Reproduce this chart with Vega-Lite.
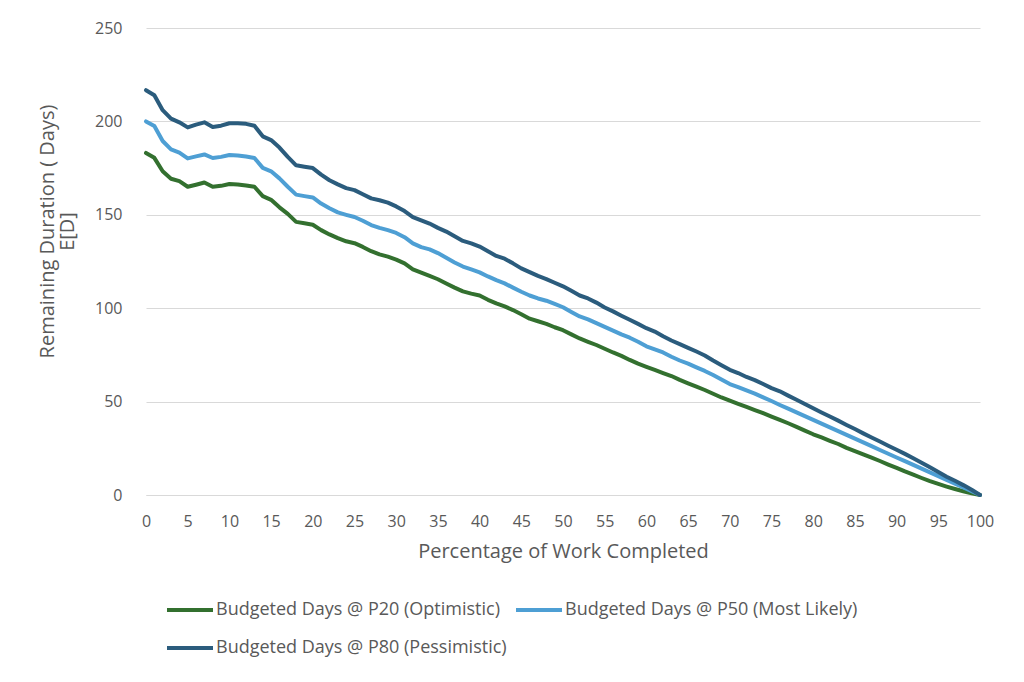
{
  "$schema": "https://vega.github.io/schema/vega-lite/v6.json",
  "width": 834,
  "height": 467,
  "autosize": "none",
  "padding": {"left": 146, "top": 28, "right": 44, "bottom": 187},
  "background": "white",
  "data": {"values": [
    {"pct":0,"p20":183.1,"p50":200,"p80":216.7},
    {"pct":1,"p20":180.5,"p50":197.5,"p80":214},
    {"pct":2,"p20":173.3,"p50":189.5,"p80":206},
    {"pct":3,"p20":169.3,"p50":185,"p80":201.5},
    {"pct":4,"p20":168,"p50":183.3,"p80":199.5},
    {"pct":5,"p20":165,"p50":180.2,"p80":196.8},
    {"pct":6,"p20":166.1,"p50":181.3,"p80":198.3},
    {"pct":7,"p20":167.3,"p50":182.3,"p80":199.5},
    {"pct":8,"p20":165,"p50":180.4,"p80":197},
    {"pct":9,"p20":165.5,"p50":181,"p80":197.7},
    {"pct":10,"p20":166.5,"p50":182,"p80":199},
    {"pct":11,"p20":166.2,"p50":181.7,"p80":199},
    {"pct":12,"p20":165.7,"p50":181.2,"p80":198.7},
    {"pct":13,"p20":165,"p50":180.4,"p80":197.7},
    {"pct":14,"p20":160,"p50":175.1,"p80":192},
    {"pct":15,"p20":158,"p50":173.3,"p80":190},
    {"pct":16,"p20":154,"p50":169.5,"p80":186},
    {"pct":17,"p20":150.5,"p50":165,"p80":181},
    {"pct":18,"p20":146.2,"p50":160.8,"p80":176.5},
    {"pct":19,"p20":145.5,"p50":160,"p80":175.7},
    {"pct":20,"p20":144.7,"p50":159.3,"p80":175},
    {"pct":21,"p20":141.8,"p50":156,"p80":171.5},
    {"pct":22,"p20":139.5,"p50":153.5,"p80":168.5},
    {"pct":23,"p20":137.5,"p50":151.3,"p80":166.3},
    {"pct":24,"p20":135.8,"p50":150,"p80":164.3},
    {"pct":25,"p20":134.8,"p50":148.8,"p80":163.2},
    {"pct":26,"p20":132.8,"p50":146.8,"p80":161},
    {"pct":27,"p20":130.5,"p50":144.5,"p80":158.8},
    {"pct":28,"p20":128.8,"p50":143,"p80":157.8},
    {"pct":29,"p20":127.6,"p50":141.8,"p80":156.5},
    {"pct":30,"p20":126,"p50":140.3,"p80":154.5},
    {"pct":31,"p20":124,"p50":138,"p80":152},
    {"pct":32,"p20":120.8,"p50":134.7,"p80":148.8},
    {"pct":33,"p20":119,"p50":132.7,"p80":147},
    {"pct":34,"p20":117.3,"p50":131.5,"p80":145.3},
    {"pct":35,"p20":115.5,"p50":129.5,"p80":143},
    {"pct":36,"p20":113.2,"p50":127,"p80":141},
    {"pct":37,"p20":111,"p50":124.5,"p80":138.5},
    {"pct":38,"p20":109,"p50":122.3,"p80":136},
    {"pct":39,"p20":107.8,"p50":120.8,"p80":134.7},
    {"pct":40,"p20":106.8,"p50":119.2,"p80":133},
    {"pct":41,"p20":104.5,"p50":117,"p80":130.5},
    {"pct":42,"p20":102.6,"p50":115,"p80":128},
    {"pct":43,"p20":101,"p50":113.3,"p80":126.5},
    {"pct":44,"p20":99,"p50":111,"p80":124},
    {"pct":45,"p20":96.8,"p50":108.8,"p80":121.3},
    {"pct":46,"p20":94.4,"p50":106.8,"p80":119.3},
    {"pct":47,"p20":93,"p50":105.2,"p80":117.3},
    {"pct":48,"p20":91.6,"p50":104,"p80":115.6},
    {"pct":49,"p20":89.8,"p50":102.3,"p80":113.6},
    {"pct":50,"p20":88.2,"p50":100.5,"p80":111.7},
    {"pct":51,"p20":86,"p50":98,"p80":109.3},
    {"pct":52,"p20":83.8,"p50":95.6,"p80":106.8},
    {"pct":53,"p20":82,"p50":94,"p80":105.2},
    {"pct":54,"p20":80.3,"p50":92,"p80":103},
    {"pct":55,"p20":78.3,"p50":90,"p80":100.4},
    {"pct":56,"p20":76.3,"p50":88,"p80":98.3},
    {"pct":57,"p20":74.5,"p50":86,"p80":96},
    {"pct":58,"p20":72.3,"p50":84.2,"p80":93.8},
    {"pct":59,"p20":70.3,"p50":82,"p80":91.6},
    {"pct":60,"p20":68.6,"p50":79.6,"p80":89.3},
    {"pct":61,"p20":67,"p50":78,"p80":87.5},
    {"pct":62,"p20":65.3,"p50":76.3,"p80":85},
    {"pct":63,"p20":63.7,"p50":74,"p80":82.7},
    {"pct":64,"p20":61.6,"p50":72,"p80":80.8},
    {"pct":65,"p20":59.8,"p50":70.3,"p80":78.8},
    {"pct":66,"p20":58,"p50":68.3,"p80":76.8},
    {"pct":67,"p20":56.2,"p50":66.4,"p80":74.7},
    {"pct":68,"p20":54.2,"p50":64.2,"p80":72},
    {"pct":69,"p20":52.2,"p50":61.8,"p80":69.5},
    {"pct":70,"p20":50.5,"p50":59.4,"p80":67},
    {"pct":71,"p20":48.8,"p50":57.8,"p80":65.3},
    {"pct":72,"p20":47.2,"p50":56,"p80":63.2},
    {"pct":73,"p20":45.5,"p50":54.3,"p80":61.5},
    {"pct":74,"p20":43.8,"p50":52.3,"p80":59.4},
    {"pct":75,"p20":42,"p50":50.3,"p80":57.2},
    {"pct":76,"p20":40.2,"p50":48.2,"p80":55.5},
    {"pct":77,"p20":38.4,"p50":46.2,"p80":53.2},
    {"pct":78,"p20":36.5,"p50":44.2,"p80":51},
    {"pct":79,"p20":34.5,"p50":42.2,"p80":48.7},
    {"pct":80,"p20":32.5,"p50":40.2,"p80":46.4},
    {"pct":81,"p20":30.8,"p50":38.2,"p80":44.2},
    {"pct":82,"p20":29,"p50":36.2,"p80":42},
    {"pct":83,"p20":27.3,"p50":34.2,"p80":39.8},
    {"pct":84,"p20":25.2,"p50":32.2,"p80":37.5},
    {"pct":85,"p20":23.5,"p50":30.2,"p80":35.3},
    {"pct":86,"p20":21.7,"p50":28.2,"p80":33},
    {"pct":87,"p20":20,"p50":26.2,"p80":30.8},
    {"pct":88,"p20":18.2,"p50":24.1,"p80":28.6},
    {"pct":89,"p20":16.3,"p50":22.1,"p80":26.4},
    {"pct":90,"p20":14.5,"p50":20.1,"p80":24.2},
    {"pct":91,"p20":12.6,"p50":18.1,"p80":22},
    {"pct":92,"p20":10.9,"p50":16.1,"p80":19.7},
    {"pct":93,"p20":9.1,"p50":14.1,"p80":17.3},
    {"pct":94,"p20":7.4,"p50":12.1,"p80":14.8},
    {"pct":95,"p20":5.9,"p50":10.1,"p80":12.3},
    {"pct":96,"p20":4.5,"p50":8,"p80":9.8},
    {"pct":97,"p20":3.2,"p50":6,"p80":7.6},
    {"pct":98,"p20":2,"p50":4,"p80":5.3},
    {"pct":99,"p20":0.9,"p50":2,"p80":2.8},
    {"pct":100,"p20":0,"p50":0,"p80":0}
  ]},
  "transform": [
    {"fold": ["p20", "p50", "p80"], "as": ["series", "days"]}
  ],
  "mark": {"type": "line", "strokeWidth": 4, "strokeJoin": "round", "strokeCap": "round"},
  "encoding": {
    "x": {
      "field": "pct", "type": "quantitative",
      "scale": {"domain": [0, 100], "nice": false, "zero": false},
      "axis": {
        "values": [0,5,10,15,20,25,30,35,40,45,50,55,60,65,70,75,80,85,90,95,100],
        "title": "Percentage of Work Completed",
        "grid": false, "ticks": false,
        "domain": true, "domainColor": "#d9d9d9", "domainWidth": 1,
        "labelPadding": 18, "labelFontSize": 16, "labelColor": "#595959",
        "labelFlush": false,
        "titleFontSize": 20, "titleFontWeight": "normal", "titleColor": "#595959",
        "titlePadding": 12
      }
    },
    "y": {
      "field": "days", "type": "quantitative",
      "scale": {"domain": [0, 250], "nice": false},
      "axis": {
        "values": [0, 50, 100, 150, 200, 250],
        "title": ["Remaining Duration ( Days)", "E[D]"],
        "grid": true, "gridColor": "#d9d9d9", "gridWidth": 1,
        "ticks": false, "domain": false,
        "labelPadding": 24, "labelFontSize": 16, "labelColor": "#595959",
        "titleFontSize": 20, "titleFontWeight": "normal", "titleColor": "#595959",
        "titleAngle": -90, "titleX": -99, "titleY": 203,
        "titleAlign": "center", "titleBaseline": "middle", "titleLineHeight": 20
      }
    },
    "color": {
      "field": "series", "type": "nominal",
      "scale": {"domain": ["p20", "p50", "p80"], "range": ["#33702f", "#4e9fd4", "#2b5c7d"]},
      "legend": {
        "title": null,
        "orient": "none", "legendX": 19, "legendY": 557,
        "direction": "horizontal", "columns": 2, "gridAlign": "none",
        "labelExpr": "datum.value == 'p20' ? 'Budgeted Days @ P20 (Optimistic)' : datum.value == 'p50' ? 'Budgeted Days @ P50 (Most Likely)' : 'Budgeted Days @ P80 (Pessimistic)'",
        "symbolType": "stroke", "symbolSize": 2116, "symbolStrokeWidth": 4,
        "labelFontSize": 18, "labelColor": "#595959", "labelOffset": 1,
        "columnPadding": 1, "rowPadding": 4, "labelLimit": 400
      }
    }
  },
  "config": {
    "font": "Open Sans",
    "view": {"stroke": null}
  }
}
